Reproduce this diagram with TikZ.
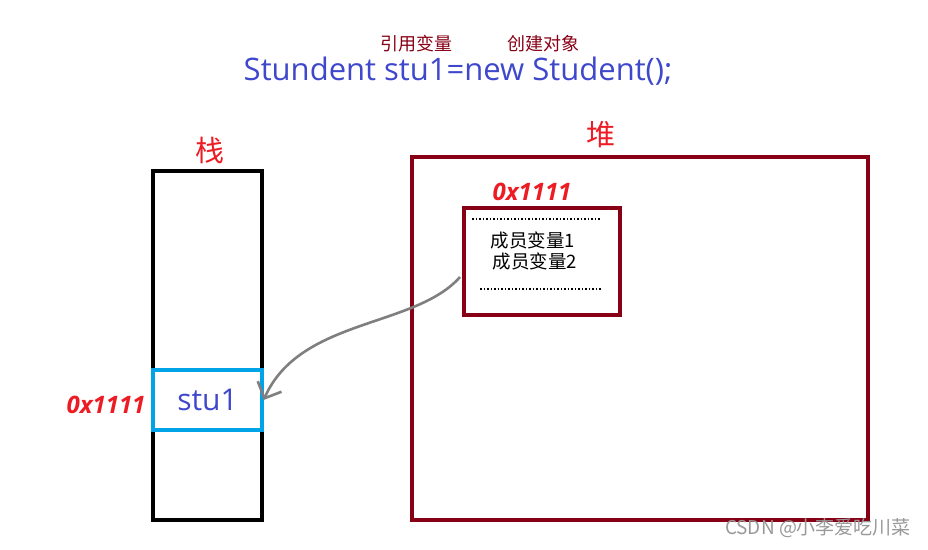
\documentclass[tikz,border=0pt]{standalone}
\usepackage{fontspec}
\setmainfont{Noto Sans CJK SC}
\newfontfamily\latinfont{Open Sans}
\usetikzlibrary{arrows.meta}
\definecolor{tblue}{HTML}{3F48CC}
\definecolor{tred}{HTML}{ED1C24}
\definecolor{dred}{HTML}{880015}
\definecolor{cyanc}{HTML}{00A2E8}
\definecolor{arrgray}{HTML}{7F7F7F}
\tikzset{
  addr/.style={text=tred, font=\fontsize{24}{24}\selectfont\latinfont\bfseries\itshape, inner sep=0pt},
  title/.style={text=tred, font=\fontsize{29}{29}\selectfont, inner sep=0pt},
  small/.style={text=dred, font=\fontsize{18}{18}\selectfont, inner sep=0pt},
  member/.style={text=black, font=\fontsize{18.5}{18.5}\selectfont, inner sep=0pt},
}
\begin{document}
\begin{tikzpicture}[x=1pt,y=-1pt]
\useasboundingbox[fill=white] (0,0) rectangle (928,549);
% title
\node[text=tblue, font=\fontsize{31}{31}\selectfont\latinfont, inner sep=0pt, anchor=base] (code) at (458,80) {Stundent stu1=new Student();};
\node[small] (ref) at (416,44) {引用变量};
\node[small] (obj) at (543,44) {创建对象};
% stack
\draw[line width=3.2pt] (153,171) rectangle (262,520);
\node[title] (zhan) at (210,150) {栈};
\node[draw=cyanc, line width=3.2pt, minimum width=109pt, minimum height=60pt, inner sep=0pt, text=tblue, font=\fontsize{30}{30}\selectfont\latinfont] (stu) at (207.5,400) {stu1};
\node[addr] (addr1) at (106,405) {0x1111};
% heap
\draw[dred, line width=3.2pt] (412,157) rectangle (868,520);
\node[title] (dui) at (601,135) {堆};
\node[draw=dred, line width=3.2pt, minimum width=156pt, minimum height=107pt, inner sep=0pt] (obj box) at (542,261.5) {};
\node[addr] (addr2) at (532,192) {0x1111};
\draw[line width=1.5pt, dotted] (472,219) -- (601,219);
\draw[line width=1.5pt, dotted] (480,289) -- (602,289);
\node[member] (m1) at (533,240) {成员变量1};
\node[member] (m2) at (535,261) {成员变量2};
\coordinate (as) at (460,277);
% arrow
\draw[arrgray, line width=2.6pt, -{Straight Barb[length=13pt,width=26pt,line width=2.6pt]}] (as) .. controls (415,328) and (300,318) .. (stu.east);
% watermark
\node[text=gray!80, font=\fontsize{19}{19}\selectfont, inner sep=0pt] (wm) at (818,528) {CSDN @小李爱吃川菜};
\end{tikzpicture}
\end{document}
